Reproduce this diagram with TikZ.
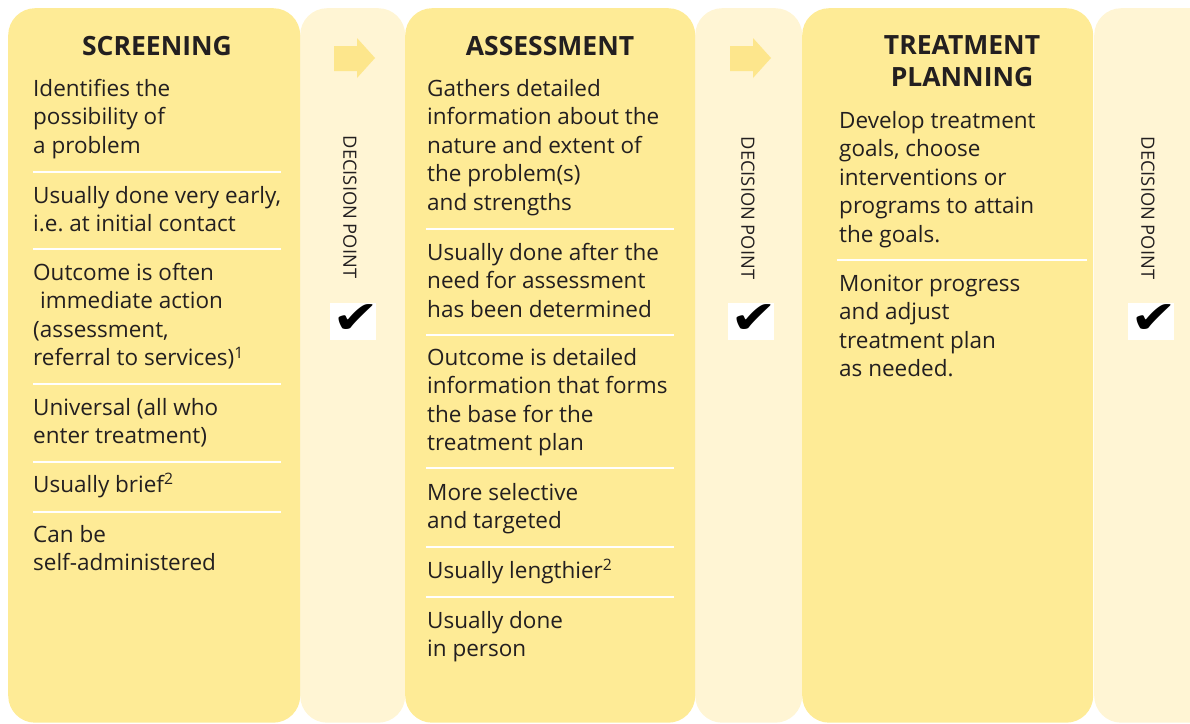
\documentclass[tikz,border=0pt]{standalone}
\usepackage{fontspec}
\setmainfont{Open Sans}
\newfontfamily\dejavu{DejaVu Sans}
\frenchspacing
\definecolor{maincol}{HTML}{FEEB96}
\definecolor{lightcol}{HTML}{FFF5D4}
\definecolor{arrowcol}{HTML}{FDE68C}
\definecolor{ink}{HTML}{231F20}
\newcommand\bs{\rule{0pt}{22pt}}
\newcommand\hs{\rule{0pt}{22pt}}
\tikzset{
  mainbox/.style={fill=maincol, rounded corners=27pt, inner sep=0pt, anchor=north west},
  decbox/.style={fill=lightcol, rounded corners=27pt, inner sep=0pt, anchor=north west},
  body/.style={anchor=north west, inner sep=0pt, align=left, text=ink,
    font=\fontsize{22.5}{28.5}\selectfont},
  head/.style={inner sep=0pt, text=ink, font=\bfseries\fontsize{26.5}{32.5}\selectfont},
  sepline/.style={draw=white, line width=2pt},
  decision/.style={rotate=-90, inner sep=0pt, text=ink, font=\fontsize{18.3}{20}\selectfont},
  checkbox/.style={fill=white, inner sep=0pt, minimum width=46pt, minimum height=37pt},
  checkmark/.style={inner sep=0pt, text=black, font=\dejavu\fontsize{34}{36}\selectfont},
  flowarrow/.style={fill=arrowcol}
}
\newcommand\bigcheck{\scalebox{1.65}[1.35]{✔}}
\begin{document}
\begin{tikzpicture}[x=1pt,y=-1pt]
\useasboundingbox (0,0) rectangle (1190,723);
\clip (0,0) rectangle (1190,723);
% decision columns
\node[decbox, minimum width=105pt, minimum height=714.5pt] (d1) at (300,8) {};
\node[decbox, minimum width=107pt, minimum height=714.5pt] (d2) at (695,8) {};
\node[decbox, minimum width=140pt, minimum height=714.5pt] (d3) at (1094,8) {};
% main columns
\node[mainbox, minimum width=292pt, minimum height=714.5pt] (c1) at (8,8) {};
\node[mainbox, minimum width=290pt, minimum height=714.5pt] (c2) at (405,8) {};
\node[mainbox, minimum width=291pt, minimum height=714.5pt] (c3) at (802,8) {};
% arrows
\fill[flowarrow] (334,46) -- (357,46) -- (357,38) -- (375,58) -- (357,78) -- (357,71) -- (334,71) -- cycle;
\fill[flowarrow] (730,46) -- (753,46) -- (753,38) -- (771,58) -- (753,78) -- (753,71) -- (730,71) -- cycle;
% decision labels
\node[decision] (dp1) at (350,207) {DECISION POINT};
\node[decision] (dp2) at (748,208) {DECISION POINT};
\node[decision] (dp3) at (1148,208) {DECISION POINT};
\node[checkbox] (cb1) at (353,321.5) {};
\node[checkbox] (cb2) at (750.5,321.5) {};
\node[checkbox] (cb3) at (1150.5,321.5) {};
\node[checkmark] (ck1) at (356,319) {\bigcheck};
\node[checkmark] (ck2) at (753.5,319) {\bigcheck};
\node[checkmark] (ck3) at (1153.5,319) {\bigcheck};
% headings
\node[head, anchor=base] (h1) at (157,55) {SCREENING};
\node[head, anchor=base] (h2) at (550,55) {ASSESSMENT};
\node[head, anchor=north, align=center] (h3) at (962,32) {\hs TREATMENT\\PLANNING};
% column 1
\node[body] (s1) at (33,74) {\bs Identifies the\\possibility of\\a problem};
\node[body] (s2) at (33,181) {\bs Usually done very early,\\i.e. at initial contact};
\node[body] (s3) at (33,258) {\bs Outcome is often\\\hspace*{7pt}immediate action\\(assessment,\\referral to services)\textsuperscript{1}};
\node[body] (s4) at (33,393) {\bs Universal (all who\\enter treatment)};
\node[body] (s5) at (33,470) {\bs Usually brief\textsuperscript{2}};
\node[body] (s6) at (33,520) {\bs Can be\\self-administered};
\draw[sepline] (33,172) -- (281,172);
\draw[sepline] (33,249) -- (281,249);
\draw[sepline] (33,384) -- (281,384);
\draw[sepline] (33,462) -- (281,462);
\draw[sepline] (33,512) -- (281,512);
% column 2
\node[body] (a1) at (427,74) {\bs Gathers detailed\\information about the\\nature and extent of\\the problem(s)\\and strengths};
\node[body] (a2) at (427,238) {\bs Usually done after the\\need for assessment\\has been determined};
\node[body] (a3) at (427,343) {\bs Outcome is detailed\\information that forms\\the base for the\\treatment plan};
\node[body] (a4) at (427,478) {\bs More selective\\and targeted};
\node[body] (a5) at (427,556) {\bs Usually lengthier\textsuperscript{2}};
\node[body] (a6) at (427,606) {\bs Usually done\\in person};
\draw[sepline] (426,229) -- (674,229);
\draw[sepline] (426,335) -- (674,335);
\draw[sepline] (426,468) -- (674,468);
\draw[sepline] (426,547) -- (674,547);
\draw[sepline] (426,597) -- (674,597);
% column 3
\node[body] (t1) at (839,106) {\bs Develop treatment\\goals, choose\\interventions or\\programs to attain\\the goals.};
\node[body] (t2) at (839,269) {\bs Monitor progress\\and adjust\\treatment plan\\as needed.};
\draw[sepline] (837,260) -- (1087,260);
\end{tikzpicture}
\end{document}
